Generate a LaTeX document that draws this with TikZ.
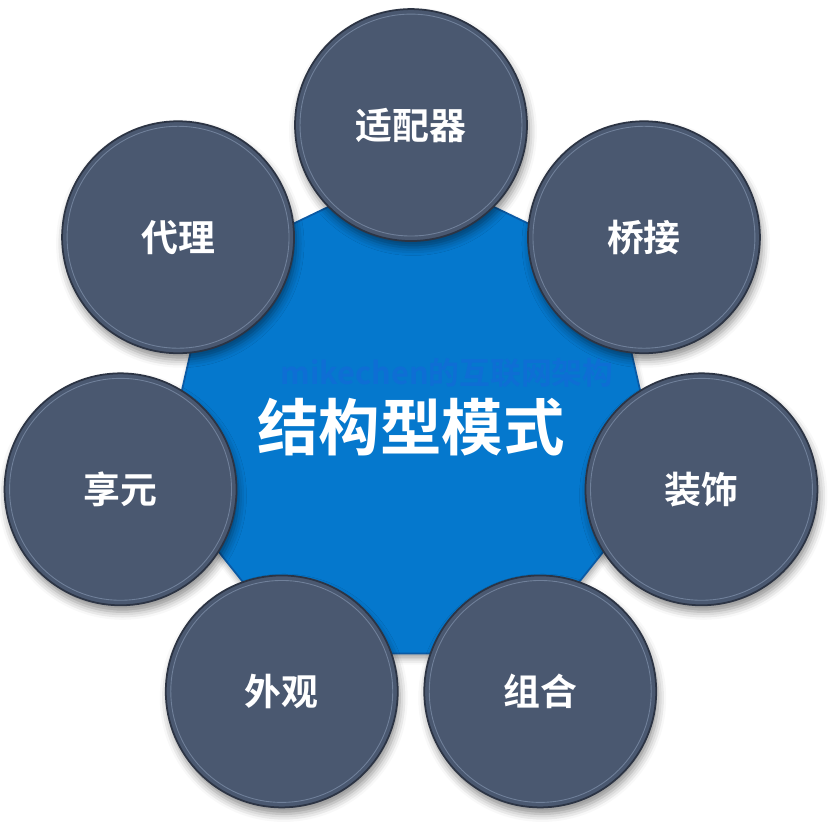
\documentclass[tikz,border=0pt]{standalone}
\usepackage{fontspec}
\newfontfamily\cjk{Noto Sans CJK SC}[BoldFont={Noto Sans CJK SC Bold}]
\usepackage{tikz}
\usetikzlibrary{shapes.geometric,shadows.blur}
\definecolor{hubblue}{RGB}{5,120,205}
\definecolor{hubedge}{RGB}{10,90,165}
\definecolor{wmblue}{RGB}{14,110,212}
\definecolor{slate}{RGB}{74,88,112}
\definecolor{slatedark}{RGB}{44,52,68}
\definecolor{slatering}{RGB}{112,128,154}
\tikzstyle{hub}=[regular polygon,regular polygon sides=7,minimum size=10.24cm,inner sep=0pt,fill=hubblue,draw=hubedge,line width=1pt,blur shadow={shadow xshift=0.03cm,shadow yshift=-0.1cm,shadow blur radius=0.12cm,shadow opacity=35}]
\tikzstyle{topic}=[circle,minimum size=4.64cm,inner sep=0pt,fill=slate,draw=slatedark,line width=1pt,text=white,font=\cjk\bfseries\fontsize{21}{21}\selectfont,blur shadow={shadow xshift=0.04cm,shadow yshift=-0.13cm,shadow blur radius=0.16cm,shadow opacity=45}]
\tikzstyle{ring}=[draw=slatering,line width=0.5pt]
\tikzstyle{title}=[text=white,font=\cjk\bfseries\fontsize{35}{35}\selectfont,inner sep=0pt]
\tikzstyle{wmtext}=[text=wmblue,font=\cjk\bfseries\fontsize{17.5}{17.5}\selectfont,inner sep=0pt]

\begin{document}
\begin{tikzpicture}[x=0.02cm,y=-0.02cm]
  \useasboundingbox (0,0) rectangle (834,828);
  \node[hub] (hub) at (411,423) {};
  \node[wmtext] (wm) at (447,373) {mikechen的互联网架构};
  \node[title] (title) at (411,427) {结构型模式};
  \foreach \ang/\name/\txt in {90/adapter/适配器,38.57/bridge/桥接,-12.86/decorator/装饰,-64.29/composite/组合,-115.71/facade/外观,-167.14/flyweight/享元,141.43/proxy/代理}
  {
    \node[topic] (\name) at ([shift={(\ang:5.96cm)}]hub.center) {\txt};
    \draw[ring] (\name.center) circle (2.22cm);
  }
\end{tikzpicture}
\end{document}
